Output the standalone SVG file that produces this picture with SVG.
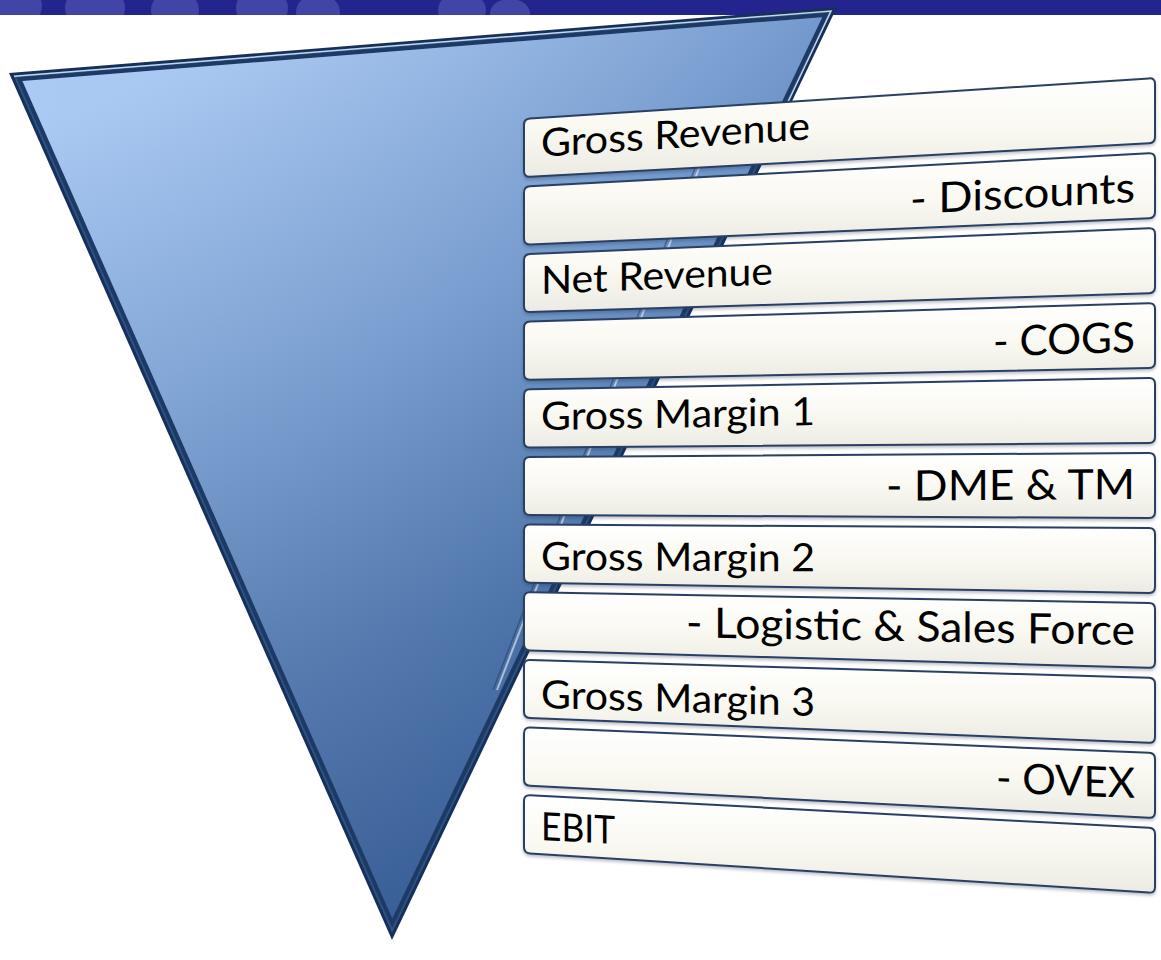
<svg xmlns="http://www.w3.org/2000/svg" width="1161" height="960" viewBox="0 0 1161 960">
<defs>
<style>
.box{fill:url(#boxg);stroke:#2b4064;stroke-width:2;filter:url(#sh)}
.t{font-family:Lato,"Open Sans","Liberation Sans",sans-serif;fill:#000}
.l{font-size:39px}
.r{font-size:42px}
</style>
<linearGradient id="boxg" x1="0" y1="0" x2="0" y2="1">
<stop offset="0" stop-color="#ffffff"/>
<stop offset="0.55" stop-color="#f9f8f0"/>
<stop offset="1" stop-color="#ecebe3"/>
</linearGradient>
<linearGradient id="triG" gradientUnits="userSpaceOnUse" x1="150" y1="80" x2="450" y2="900">
<stop offset="0" stop-color="#a5c6f2"/>
<stop offset="0.35" stop-color="#789fd3"/>
<stop offset="0.7" stop-color="#4871a9"/>
<stop offset="1" stop-color="#2a538f"/>
</linearGradient>
<linearGradient id="triH" gradientUnits="userSpaceOnUse" x1="20" y1="0" x2="830" y2="0">
<stop offset="0" stop-color="#ffffff" stop-opacity="0.06"/>
<stop offset="1" stop-color="#1d4785" stop-opacity="0.22"/>
</linearGradient>
<filter id="sh" x="-5%" y="-20%" width="110%" height="150%">
<feDropShadow dx="0" dy="2" stdDeviation="1.5" flood-color="#1a2a40" flood-opacity="0.3"/>
</filter>
<clipPath id="banClip"><rect x="0" y="0" width="1161" height="15"/></clipPath>
</defs>

<g id="banner">
<rect x="0" y="0" width="1161" height="15" fill="#23248e"/>
<g clip-path="url(#banClip)" fill="#4c51ae" opacity="0.75">
<ellipse cx="18" cy="6" rx="24" ry="22"/>
<ellipse cx="95" cy="8" rx="30" ry="24"/>
<ellipse cx="175" cy="10" rx="24" ry="20"/>
<ellipse cx="262" cy="8" rx="26" ry="22"/>
<ellipse cx="318" cy="12" rx="22" ry="18"/>
<ellipse cx="462" cy="10" rx="24" ry="18"/>
<ellipse cx="510" cy="13" rx="20" ry="14"/>
</g>
</g>

<g id="funnel">
<polygon points="9,73 837,7 392,940" fill="#16305a"/>
<polygon points="13.5,75.7 832.1,10.4 392.1,932.8" fill="#2d5283"/>
<polyline points="14,76.2 831,11 770,140" fill="none" stroke="#d4e4f7" stroke-width="1.5" stroke-opacity="0.9"/>
<polygon points="16.4,77.4 828.8,12.7 392.2,928" fill="#1d3a66"/>
<polygon points="22.4,81 822.2,17.2 392.3,918.4" fill="url(#triG)"/>
<polygon points="22.4,81 822.2,17.2 392.3,918.4" fill="url(#triH)"/>
<line x1="706" y1="150" x2="497" y2="690" stroke="#ffffff" stroke-width="2" stroke-opacity="0.55"/>
<line x1="702" y1="150" x2="493" y2="690" stroke="#1c3a66" stroke-width="1.5" stroke-opacity="0.5"/>
</g>

<g id="connectors"/>

<g id="n0"><path class="box" d="M524,125 Q524,119 530,118.6 L1149,78.4 Q1155,78 1155,84 L1155,137 Q1155,143 1149,143.3 L530,176.7 Q524,177 524,171 Z"/>
<text class="t l" x="541" y="192" textLength="269" lengthAdjust="spacingAndGlyphs" transform="matrix(1 -0.065 0 1 0 0)">Gross Revenue</text></g>

<g id="n1"><path class="box" d="M524,192.6 Q524,186.6 530,186.3 L1149,153.3 Q1155,153 1155,159 L1155,212 Q1155,218 1149,218.3 L530,244.4 Q524,244.6 524,238.6 Z"/>
<text class="t r" x="910" y="262.4" textLength="225" lengthAdjust="spacingAndGlyphs" transform="matrix(1 -0.0532 0 1 0 0)">- Discounts</text></g>

<g id="n2"><path class="box" d="M524,260.2 Q524,254.2 530,254 L1149,228.2 Q1155,228 1155,234 L1155,287 Q1155,293 1149,293.2 L530,312 Q524,312.2 524,306.2 Z"/>
<text class="t l" x="541" y="316.5" textLength="232" lengthAdjust="spacingAndGlyphs" transform="matrix(1 -0.0415 0 1 0 0)">Net Revenue</text></g>

<g id="n3"><path class="box" d="M524,327.8 Q524,321.8 530,321.6 L1149,303.2 Q1155,303 1155,309 L1155,362 Q1155,368 1149,368.1 L530,379.7 Q524,379.8 524,373.8 Z"/>
<text class="t r" x="993" y="385.8" textLength="142" lengthAdjust="spacingAndGlyphs" transform="matrix(1 -0.0298 0 1 0 0)">- COGS</text></g>

<g id="n4"><path class="box" d="M524,395.4 Q524,389.4 530,389.3 L1149,378.1 Q1155,378 1155,384 L1155,437 Q1155,443 1149,443 L530,447.4 Q524,447.4 524,441.4 Z"/>
<text class="t l" x="541" y="439.8" textLength="274" lengthAdjust="spacingAndGlyphs" transform="matrix(1 -0.0181 0 1 0 0)">Gross Margin 1</text></g>

<g id="n5"><path class="box" d="M524,463 Q524,457 530,457 L1149,453 Q1155,453 1155,459 L1155,512 Q1155,518 1149,518 L530,515 Q524,515 524,509 Z"/>
<text class="t r" x="886" y="506.2" textLength="249" lengthAdjust="spacingAndGlyphs" transform="matrix(1 -0.0063 0 1 0 0)">- DME &amp; TM</text></g>

<g id="n6"><path class="box" d="M524,530.6 Q524,524.6 530,524.6 L1149,528 Q1155,528 1155,534 L1155,587 Q1155,593 1149,592.9 L530,582.7 Q524,582.6 524,576.6 Z"/>
<text class="t l" x="541" y="567.1" textLength="274" lengthAdjust="spacingAndGlyphs" transform="matrix(1 0.0054 0 1 0 0)">Gross Margin 2</text></g>

<g id="n7"><path class="box" d="M524,598.2 Q524,592.2 530,592.3 L1149,602.9 Q1155,603 1155,609 L1155,662 Q1155,668 1149,667.8 L530,650.4 Q524,650.2 524,644.2 Z"/>
<text class="t r" x="686" y="625.6" textLength="449" lengthAdjust="spacingAndGlyphs" transform="matrix(1 0.0171 0 1 0 0)">- Logistic &amp; Sales Force</text></g>

<g id="n8"><path class="box" d="M524,665.8 Q524,659.8 530,660 L1149,677.8 Q1155,678 1155,684 L1155,737 Q1155,743 1149,742.8 L530,718 Q524,717.8 524,711.8 Z"/>
<text class="t l" x="541" y="692.4" textLength="274" lengthAdjust="spacingAndGlyphs" transform="matrix(1 0.0288 0 1 0 0)">Gross Margin 3</text></g>

<g id="n9"><path class="box" d="M524,733.4 Q524,727.4 530,727.6 L1149,752.8 Q1155,753 1155,759 L1155,812 Q1155,818 1149,817.7 L530,785.7 Q524,785.4 524,779.4 Z"/>
<text class="t r" x="996" y="751.9" textLength="139" lengthAdjust="spacingAndGlyphs" transform="matrix(1 0.0406 0 1 0 0)">- OVEX</text></g>

<g id="n10"><path class="box" d="M524,801 Q524,795 530,795.3 L1149,827.7 Q1155,828 1155,834 L1155,887 Q1155,893 1149,892.6 L530,853.4 Q524,853 524,847 Z"/>
<text class="t l" x="541" y="811.7" textLength="74" lengthAdjust="spacingAndGlyphs" transform="matrix(1 0.0523 0 1 0 0)">EBIT</text></g>
</svg>
